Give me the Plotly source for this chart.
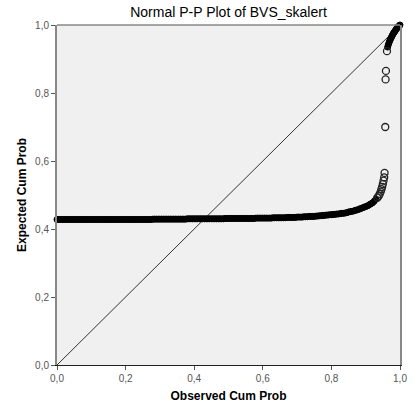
import plotly.graph_objects as go

# Dense part of the P-P plot (points overlap into a solid band)
band_observed = [
    0.000, 0.005, 0.010, 0.015, 0.020, 0.025, 0.030, 0.035, 0.040, 0.045,
    0.050, 0.055, 0.060, 0.065, 0.070, 0.075, 0.080, 0.085, 0.090, 0.095,
    0.100, 0.105, 0.110, 0.115, 0.120, 0.125, 0.130, 0.135, 0.140, 0.145,
    0.150, 0.155, 0.160, 0.165, 0.170, 0.175, 0.180, 0.185, 0.190, 0.195,
    0.200, 0.205, 0.210, 0.215, 0.220, 0.225, 0.230, 0.235, 0.240, 0.245,
    0.250, 0.255, 0.260, 0.265, 0.270, 0.275, 0.280, 0.285, 0.290, 0.295,
    0.300, 0.305, 0.310, 0.315, 0.320, 0.325, 0.330, 0.335, 0.340, 0.345,
    0.350, 0.355, 0.360, 0.365, 0.370, 0.375, 0.380, 0.385, 0.390, 0.395,
    0.400, 0.405, 0.410, 0.415, 0.420, 0.425, 0.430, 0.435, 0.440, 0.445,
    0.450, 0.455, 0.460, 0.465, 0.470, 0.475, 0.480, 0.485, 0.490, 0.495,
    0.500, 0.505, 0.510, 0.515, 0.520, 0.525, 0.530, 0.535, 0.540, 0.545,
    0.550, 0.555, 0.560, 0.565, 0.570, 0.575, 0.580, 0.585, 0.590, 0.595,
    0.600, 0.605, 0.610, 0.615, 0.620, 0.625, 0.630, 0.635, 0.640, 0.645,
    0.650, 0.655, 0.660, 0.665, 0.670, 0.675, 0.680, 0.685, 0.690, 0.695,
    0.700, 0.705, 0.710, 0.715, 0.720, 0.725, 0.730, 0.735, 0.740, 0.745,
    0.750, 0.755, 0.760, 0.765, 0.770, 0.775, 0.780, 0.785, 0.790, 0.795,
    0.800, 0.805, 0.810, 0.815, 0.820, 0.825, 0.830, 0.835, 0.840, 0.845,
    0.850, 0.855, 0.860, 0.865, 0.870, 0.875, 0.880, 0.885, 0.890, 0.895,
    0.900, 0.905, 0.910, 0.915, 0.920, 0.925, 0.930,
    0.964, 0.966, 0.968, 0.970, 0.972, 0.974, 0.976, 0.978, 0.980, 0.982,
    0.984, 0.986, 0.988, 0.990, 0.992, 0.994, 0.996, 0.998, 1.000,
]
band_expected = [
    0.428, 0.428, 0.428, 0.428, 0.428, 0.428, 0.428, 0.428, 0.428, 0.428,
    0.428, 0.428, 0.428, 0.428, 0.428, 0.428, 0.428, 0.428, 0.428, 0.428,
    0.428, 0.428, 0.428, 0.428, 0.428, 0.428, 0.428, 0.428, 0.428, 0.428,
    0.428, 0.428, 0.428, 0.428, 0.428, 0.428, 0.428, 0.428, 0.428, 0.428,
    0.428, 0.428, 0.428, 0.428, 0.428, 0.428, 0.428, 0.428, 0.428, 0.428,
    0.428, 0.428, 0.428, 0.428, 0.428, 0.428, 0.429, 0.429, 0.429, 0.429,
    0.429, 0.429, 0.429, 0.429, 0.429, 0.429, 0.429, 0.429, 0.429, 0.429,
    0.429, 0.429, 0.429, 0.429, 0.429, 0.429, 0.430, 0.430, 0.430, 0.430,
    0.430, 0.430, 0.430, 0.430, 0.430, 0.430, 0.430, 0.430, 0.430, 0.430,
    0.430, 0.430, 0.430, 0.430, 0.430, 0.430, 0.430, 0.430, 0.431, 0.431,
    0.431, 0.431, 0.431, 0.431, 0.431, 0.431, 0.431, 0.431, 0.431, 0.431,
    0.431, 0.431, 0.431, 0.431, 0.431, 0.431, 0.432, 0.432, 0.432, 0.432,
    0.432, 0.432, 0.432, 0.432, 0.432, 0.432, 0.433, 0.433, 0.433, 0.433,
    0.433, 0.433, 0.433, 0.433, 0.434, 0.434, 0.434, 0.434, 0.434, 0.434,
    0.435, 0.435, 0.435, 0.435, 0.436, 0.436, 0.436, 0.437, 0.437, 0.437,
    0.437, 0.438, 0.438, 0.439, 0.439, 0.440, 0.440, 0.441, 0.441, 0.442,
    0.442, 0.443, 0.443, 0.444, 0.444, 0.445, 0.446, 0.446, 0.447, 0.448,
    0.450, 0.451, 0.452, 0.453, 0.455, 0.456, 0.458, 0.460, 0.462, 0.464,
    0.466, 0.468, 0.471, 0.474, 0.477, 0.482, 0.488,
    0.935, 0.942, 0.948, 0.953, 0.958, 0.962, 0.966, 0.970, 0.974, 0.977,
    0.980, 0.983, 0.986, 0.989, 0.992, 0.994, 0.996, 0.998, 1.000,
]
# Sparse part (individual open circles)
sparse_observed = [0.934, 0.938, 0.941, 0.944, 0.946, 0.948, 0.950, 0.952,
                   0.954, 0.955, 0.957, 0.958, 0.959, 0.962]
sparse_expected = [0.492, 0.497, 0.503, 0.510, 0.517, 0.524, 0.532, 0.542,
                   0.552, 0.565, 0.700, 0.840, 0.865, 0.923]
ref_line = [0.0, 1.0]
tick_vals = [0.0, 0.2, 0.4, 0.6, 0.8, 1.0]

fig = go.Figure()
fig.add_trace(go.Scatter(
    x=ref_line, y=ref_line, mode="lines",
    line=dict(color="#333333", width=1), hoverinfo="skip", showlegend=False,
))
fig.add_trace(go.Scatter(
    x=band_observed, y=band_expected, mode="markers",
    marker=dict(symbol="circle", size=6, color="#000000",
                line=dict(width=1, color="#000000")),
    cliponaxis=False, showlegend=False,
))
fig.add_trace(go.Scatter(
    x=sparse_observed, y=sparse_expected, mode="markers",
    marker=dict(symbol="circle-open", size=7, color="#222222", line=dict(width=1.3)),
    cliponaxis=False, showlegend=False,
))

fig.update_layout(
    width=419, height=412,
    margin=dict(l=57, r=19, t=25, b=42),
    paper_bgcolor="white", plot_bgcolor="#F0F0F0",
    separators=",.",
    font=dict(family="Liberation Sans, Arial", color="#000"),
    title=dict(text="Normal P-P Plot of BVS_skalert", x=0.5, xanchor="center",
               xref="paper", y=0.982, yanchor="top",
               font=dict(size=14, color="#000")),
    xaxis=dict(range=[0, 1], tickvals=tick_vals, tickformat=".1f",
               showgrid=False, zeroline=False, showline=True,
               linecolor="#222222", linewidth=1, ticks="outside", ticklen=4,
               tickcolor="#555555", tickfont=dict(size=10, color="#555555"),
               title=dict(text="<b>Observed Cum Prob</b>", font=dict(size=12), standoff=8)),
    yaxis=dict(range=[0, 1], tickvals=tick_vals, tickformat=".1f",
               showgrid=False, zeroline=False, showline=True, mirror=True,
               linecolor="#888888", linewidth=2, ticks="outside", ticklen=4,
               tickcolor="#555555", tickfont=dict(size=10, color="#555555"),
               title=dict(text="<b>Expected Cum Prob</b>", font=dict(size=12), standoff=6)),
    shapes=[dict(type="line", xref="paper", yref="paper", x0=0, x1=1, y0=1, y1=1,
                 line=dict(color="#888888", width=1.5))],
)

fig.write_html("out.html")
